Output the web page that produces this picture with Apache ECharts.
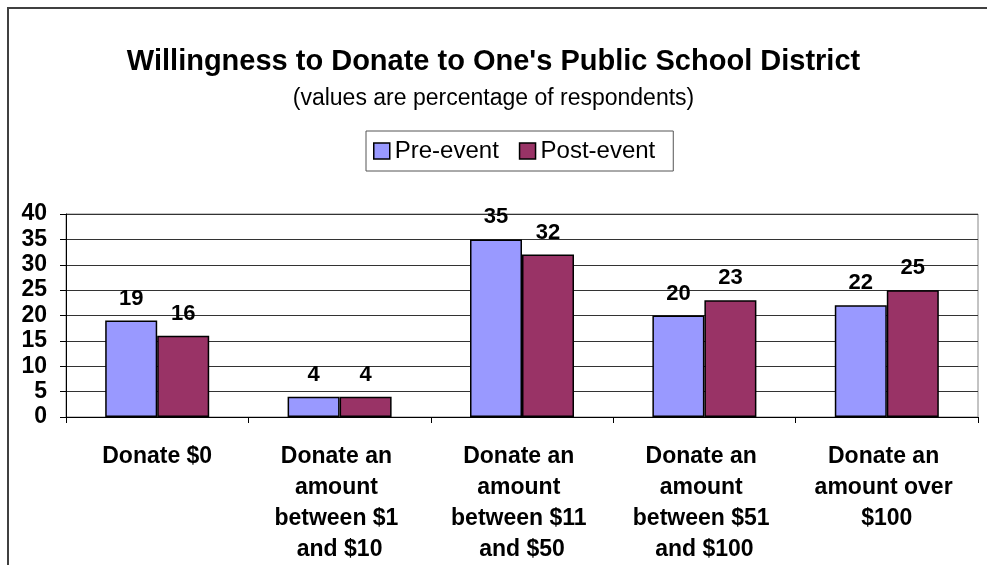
<!DOCTYPE html>
<html>
<head>
<meta charset="utf-8">
<style>
  html, body { margin: 0; padding: 0; background: #fff; }
  #chart { width: 987px; height: 565px; }
</style>
<script src="https://cdn.jsdelivr.net/npm/echarts@6/dist/echarts.min.js"></script>
</head>
<body>
<div id="chart"></div>
<script>
// Survey categories and the share of respondents (%) in each
const categories = [
  'Donate $0',
  'Donate an amount between $1 and $10',
  'Donate an amount between $11 and $50',
  'Donate an amount between $51 and $100',
  'Donate an amount over $100'
];
const preEvent = [19, 4, 35, 20, 22];
const postEvent = [16, 4, 32, 23, 25];
const yTicks = { min: 0, max: 40, interval: 5 };

const FONT = '"Liberation Sans", Arial, sans-serif';

const chart = echarts.init(document.getElementById('chart'), null, { renderer: 'canvas' });

const labelStyle = {
  show: true,
  position: 'top',
  distance: 11,
  fontFamily: FONT,
  fontWeight: 'bold',
  fontSize: 22,
  color: '#000'
};

chart.setOption({
  animation: false,
  backgroundColor: '#fff',
  textStyle: { fontFamily: FONT },
  graphic: [{
    type: 'rect',
    shape: { x: 8, y: 8, width: 1000, height: 600 },
    style: { fill: 'none', stroke: '#404040', lineWidth: 2 },
    silent: true
  }],
  title: {
    text: "Willingness to Donate to One's Public School District",
    subtext: '(values are percentage of respondents)',
    left: 'center',
    top: 42,
    itemGap: 11,
    textStyle: { fontFamily: FONT, fontWeight: 'bold', fontSize: 29, color: '#000' },
    subtextStyle: { fontFamily: FONT, fontSize: 23, color: '#000' }
  },
  legend: {
    data: ['Pre-event', 'Post-event'],
    left: 366,
    top: 131,
    padding: [8, 18, 8, 7],
    itemGap: 20,
    itemWidth: 16,
    itemHeight: 16,
    icon: 'rect',
    borderColor: '#555',
    borderWidth: 1,
    itemStyle: { borderColor: '#000', borderWidth: 1.5 },
    textStyle: { fontFamily: FONT, fontSize: 24, color: '#000', padding: [0, 0, 0, 0] }
  },
  grid: { left: 66, right: 9, top: 214, bottom: 148, show: true, borderColor: '#888', borderWidth: 1 },
  xAxis: {
    type: 'category',
    data: categories,
    axisLine: { lineStyle: { color: '#000', width: 1 } },
    axisTick: { show: true, length: 6, lineStyle: { color: '#000' } },
    axisLabel: {
      interval: 0,
      margin: 24,
      width: 160,
      overflow: 'break',
      lineHeight: 31,
      fontFamily: FONT,
      fontWeight: 'bold',
      fontSize: 23,
      color: '#000',
      align: 'center'
    },
    splitLine: { show: false }
  },
  yAxis: {
    type: 'value',
    min: yTicks.min,
    max: yTicks.max,
    interval: yTicks.interval,
    axisLine: { show: true, lineStyle: { color: '#000', width: 1 } },
    axisTick: { show: true, length: 6, lineStyle: { color: '#000' } },
    axisLabel: {
      margin: 19,
      fontFamily: FONT,
      fontWeight: 'bold',
      fontSize: 23,
      color: '#000'
    },
    splitLine: { show: true, lineStyle: { color: '#333', width: 1 } }
  },
  series: [
    {
      name: 'Pre-event',
      type: 'bar',
      data: preEvent,
      barWidth: 52,
      barGap: '0%',
      itemStyle: { color: '#9999FF', borderColor: '#000', borderWidth: 1.5 },
      label: labelStyle
    },
    {
      name: 'Post-event',
      type: 'bar',
      data: postEvent,
      barWidth: 52,
      barGap: '0%',
      itemStyle: { color: '#993366', borderColor: '#000', borderWidth: 1.5 },
      label: labelStyle
    }
  ]
});
</script>
</body>
</html>
